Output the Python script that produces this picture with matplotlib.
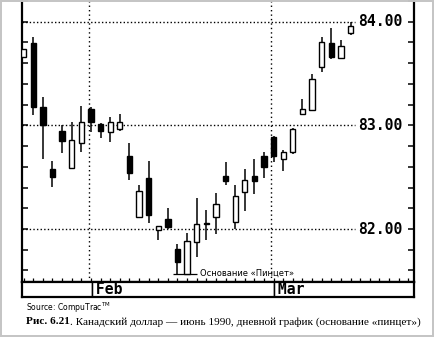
import numpy as np
import matplotlib
matplotlib.use("Agg")
import matplotlib.pyplot as plt
from matplotlib.patches import Rectangle

# daily candles, Canadian dollar June 1990
day = np.arange(35)
opn = [83.66, 83.79, 83.18, 82.58, 82.95, 82.59, 82.83, 83.16, 83.01, 82.94,
       82.96, 82.70, 82.12, 82.49, 81.99, 82.10, 81.81, 81.57, 81.87, 82.05,
       82.12, 82.51, 82.07, 82.36, 82.51, 82.70, 82.89, 82.68, 82.74, 83.11,
       83.15, 83.56, 83.79, 83.65, 83.89]
high = [83.74, 83.85, 83.27, 82.66, 83.00, 83.03, 83.19, 83.18, 83.02, 83.08,
        83.11, 82.83, 82.42, 82.66, 82.03, 82.20, 81.86, 81.96, 82.30, 82.18,
        82.35, 82.65, 82.42, 82.58, 82.68, 82.74, 82.90, 82.76, 82.97, 83.25,
        83.50, 83.85, 83.94, 83.82, 84.00]
low = [83.66, 83.10, 82.68, 82.41, 82.73, 82.59, 82.74, 82.94, 82.88, 82.84,
       82.95, 82.47, 82.12, 82.06, 81.89, 82.00, 81.57, 81.57, 81.73, 81.89,
       81.95, 82.42, 82.00, 82.17, 82.34, 82.49, 82.65, 82.56, 82.72, 83.11,
       83.15, 83.51, 83.64, 83.65, 83.87]
close = [83.74, 83.18, 83.00, 82.50, 82.85, 82.86, 83.03, 83.03, 82.95, 83.03,
         83.03, 82.54, 82.37, 82.14, 82.03, 82.02, 81.68, 81.88, 82.05, 82.06,
         82.24, 82.46, 82.32, 82.47, 82.46, 82.60, 82.70, 82.74, 82.96, 83.16,
         83.45, 83.80, 83.66, 83.77, 83.96]

price_levels = [82.0, 83.0, 84.0]
price_labels = ["82.00", "83.00", "84.00"]
month_pos = [6.8, 25.7]          # first day of month separators
month_names = ["Feb", "Mar"]
tweezer_days = [16, 17]

opn, high, low, close = map(np.array, (opn, high, low, close))

fig = plt.figure(figsize=(4.34, 3.37), dpi=100)
ax = fig.add_axes([22/434, 1 - 282/337, 392/434, 282/337])
ax.set_xlim(-0.17, 40.6)
ax.set_ylim(81.489, 84.209)

# wicks
ax.vlines(day, low, high, color="black", lw=1.1, zorder=3)
# bodies
up = close >= opn
bot = np.minimum(opn, close)
hgt = np.maximum(np.abs(close - opn), 0.012)
ax.bar(day[up], hgt[up], bottom=bot[up], width=0.55, color="white",
       edgecolor="black", lw=1.0, zorder=4)
ax.bar(day[~up], hgt[~up], bottom=bot[~up], width=0.55, color="black",
       edgecolor="black", lw=1.0, zorder=4)

# dotted grid
for lvl, lab in zip(price_levels, price_labels):
    ax.axhline(lvl, xmin=0, xmax=0.85, color="black", lw=1.0,
               ls=(0, (1, 1.6)), zorder=1)
    ax.text(0.857, lvl, lab, transform=ax.get_yaxis_transform(), ha="left",
            va="center", family="DejaVu Sans Mono", fontweight="bold",
            fontsize=10.6, zorder=5)
for xm in month_pos:
    ax.axvline(xm, color="black", lw=1.0, ls=(0, (1, 2.2)), zorder=1)

# tweezer bottom annotation
tw_low = low[tweezer_days].min()
ax.hlines(tw_low, tweezer_days[0] - 0.45, tweezer_days[1] + 1.05,
          color="black", lw=0.9, zorder=3)
ax.text(tweezer_days[1] + 1.3, tw_low, "Основание «Пинцет»", ha="left",
        va="center", fontsize=6.0, family="DejaVu Sans")

ax.set_yticks(np.arange(81.6, 84.21, 0.2))
ax.set_xticks(np.arange(0, 41))
ax.tick_params(axis="y", direction="in", left=True, right=True,
               labelleft=False, length=4.5, width=1.1)
ax.tick_params(axis="x", direction="in", bottom=True, labelbottom=False,
               length=3, width=0.9)
for s in ("left", "right", "bottom"):
    ax.spines[s].set_linewidth(1.6)
ax.spines["top"].set_visible(False)

# month strip
strip = fig.add_axes([22/434, 1 - 297/337, 392/434, 15/337], sharex=ax)
strip.set_yticks([])
strip.tick_params(axis="x", bottom=False, labelbottom=False)
for s in strip.spines.values():
    s.set_linewidth(1.6)
for xm, name in zip(month_pos, month_names):
    strip.text(xm - 0.15, 0.45, "|" + name, transform=strip.get_xaxis_transform(),
               ha="left", va="center", family="DejaVu Sans Mono",
               fontweight="bold", fontsize=10.6)

fig.text(26/434, 1 - 308/337, r"Source: CompuTrac$^{\rm TM}$", fontsize=5.5,
         va="center", ha="left", family="DejaVu Sans")
t1 = fig.text(26/434, 1 - 322/337, "Рис. 6.21", fontsize=8.1, va="center",
              ha="left", family="Liberation Serif", fontweight="bold")
ax.annotate(". Канадский доллар — июнь 1990, дневной график (основание «пинцет»)",
            xy=(1, 0.5), xycoords=t1, va="center", ha="left", fontsize=8.1,
            family="Liberation Serif", annotation_clip=False)

fig.patches.append(Rectangle((0.002, 0.003), 0.995, 0.994,
                             transform=fig.transFigure, fill=False,
                             ec="#c4c4c4", lw=1.4))

fig.savefig("out.png", dpi=100)
